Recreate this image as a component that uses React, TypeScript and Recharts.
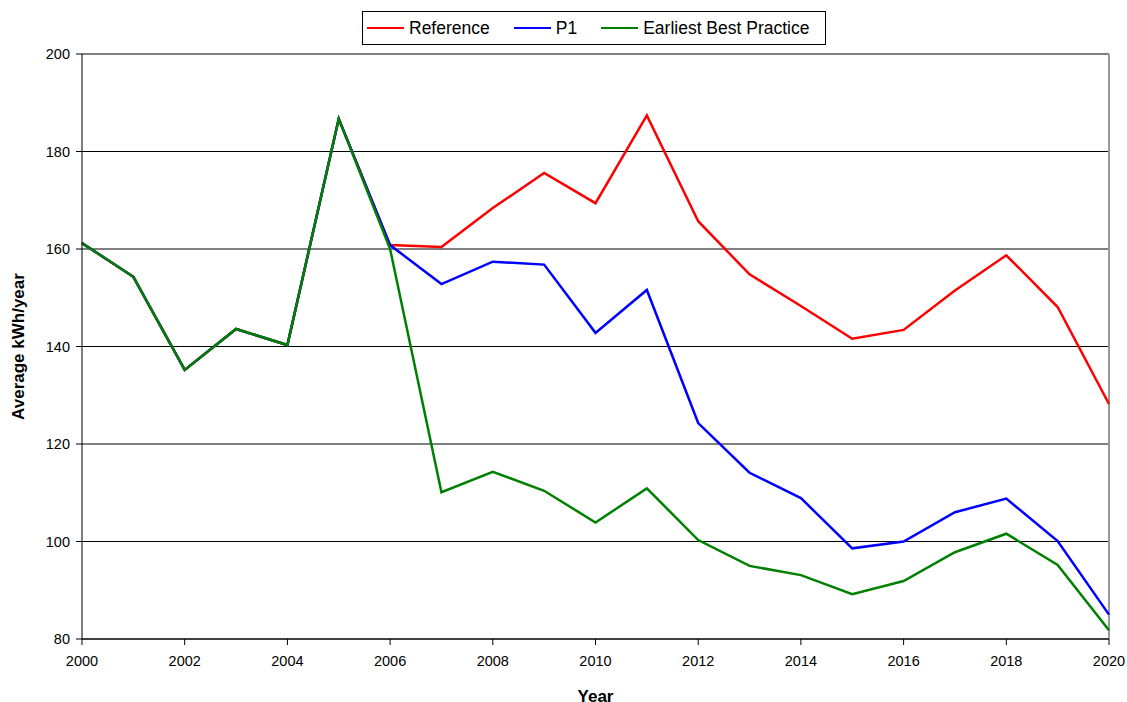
import { LineChart, Line, XAxis, YAxis, CartesianGrid, ReferenceLine } from 'recharts';

const YEARS = [2000, 2001, 2002, 2003, 2004, 2005, 2006, 2007, 2008, 2009, 2010, 2011, 2012, 2013, 2014, 2015, 2016, 2017, 2018, 2019, 2020];
const REFERENCE = [161.2, 154.3, 135.2, 143.6, 140.3, 186.7, 160.8, 160.4, 168.4, 175.6, 169.4, 187.4, 165.7, 154.8, 148.3, 141.6, 143.4, 151.5, 158.7, 148.1, 128.2];
const P1 = [161.2, 154.3, 135.2, 143.6, 140.3, 186.7, 160.8, 152.8, 157.4, 156.8, 142.8, 151.6, 124.3, 114.1, 108.9, 98.6, 100.0, 106.0, 108.8, 100.1, 85.0];
const EARLIEST_BEST = [161.2, 154.3, 135.2, 143.6, 140.3, 186.7, 160.0, 110.1, 114.3, 110.4, 103.9, 110.9, 100.3, 95.0, 93.1, 89.2, 91.9, 97.8, 101.6, 95.2, 81.8];
const X_TICKS = [2000, 2002, 2004, 2006, 2008, 2010, 2012, 2014, 2016, 2018, 2020];
const Y_TICKS = [80, 100, 120, 140, 160, 180, 200];

const SERIES = [
  { key: 'reference', name: 'Reference', color: '#ff0000' },
  { key: 'p1', name: 'P1', color: '#0000ff' },
  { key: 'ebp', name: 'Earliest Best Practice', color: '#008000' },
];

const data = YEARS.map((year, i) => ({
  year,
  reference: REFERENCE[i],
  p1: P1[i],
  ebp: EARLIEST_BEST[i],
}));

const FONT = '"Liberation Sans", Arial, sans-serif';

function ChartLegend() {
  return (
    <div
      style={{
        position: 'absolute',
        left: 362,
        top: 11,
        width: 464,
        height: 34,
        border: '1px solid #000',
        display: 'flex',
        alignItems: 'center',
        fontFamily: FONT,
        fontSize: 17.5,
        color: '#000',
        background: '#fff',
        boxSizing: 'border-box',
        paddingLeft: 4,
      }}
    >
      {SERIES.map((s, i) => (
        <div key={s.key} style={{ display: 'flex', alignItems: 'center', marginRight: i < 2 ? 24 : 0 }}>
          <div style={{ width: 37, height: 2.5, background: s.color, marginRight: 5 }} />
          <span>{s.name}</span>
        </div>
      ))}
    </div>
  );
}

export default function App() {
  return (
    <div style={{ position: 'absolute', left: 0, top: 0, width: 1127, height: 702, background: '#fff' }}>
      <LineChart
        width={1127}
        height={702}
        data={data}
        margin={{ top: 54, right: 18, bottom: 23, left: 22 }}
      >
        <CartesianGrid vertical={false} stroke="#000" strokeWidth={1} />
        <XAxis
          dataKey="year"
          type="number"
          domain={[2000, 2020]}
          ticks={X_TICKS}
          interval={0}
          height={40}
          stroke="#000"
          tickSize={6}
          tickMargin={11}
          tick={{ fontSize: 14.5, fill: '#000', fontFamily: FONT }}
          label={{ value: 'Year', position: 'insideBottom', offset: -23, fontSize: 17, fontWeight: 'bold', fill: '#000', fontFamily: FONT }}
        />
        <YAxis
          type="number"
          domain={[80, 200]}
          ticks={Y_TICKS}
          interval={0}
          width={60}
          stroke="#000"
          tickSize={6}
          tickMargin={6}
          tick={{ fontSize: 14.5, fill: '#000', fontFamily: FONT }}
          label={{ value: 'Average kWh/year', angle: -90, position: 'insideLeft', offset: -4, fontSize: 17, fontWeight: 'bold', fill: '#000', fontFamily: FONT, style: { textAnchor: 'middle' } }}
        />
        <ReferenceLine x={2020} stroke="#999" strokeWidth={2} />
        {SERIES.map((s) => (
          <Line
            key={s.key}
            type="linear"
            dataKey={s.key}
            name={s.name}
            stroke={s.color}
            strokeWidth={2.5}
            dot={false}
            isAnimationActive={false}
          />
        ))}
      </LineChart>
      <ChartLegend />
    </div>
  );
}
